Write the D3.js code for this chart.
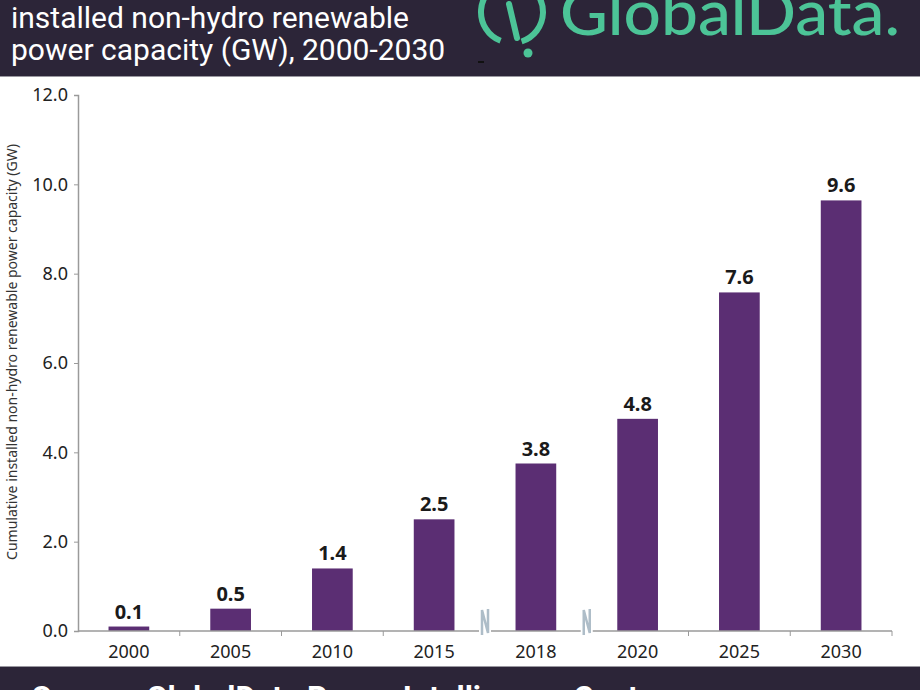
<!DOCTYPE html>
<html><head><meta charset="utf-8">
<script src="https://cdn.jsdelivr.net/npm/d3@7"></script>
<style>
html,body{margin:0;padding:0;background:#fff;overflow:hidden}
svg{display:block}
</style></head>
<body>
<script>
const years = ["2000","2005","2010","2015","2018","2020","2025","2030"];
const capacity = [0.1, 0.5, 1.4, 2.5, 3.75, 4.75, 7.58, 9.64];
const yTicks = [0, 2, 4, 6, 8, 10, 12];
const breakAfter = ["2015", "2018"];
const titleLines = ["installed non-hydro renewable", "power capacity (GW), 2000-2030"];
const yTitle = "Cumulative installed non-hydro renewable power capacity (GW)";
const source = "Source: GlobalData Power Intelligence Center";

const W = 920, H = 690;
const dark = "#2c2538", green = "#4cc497", purple = "#5b2e73";
const svg = d3.select("body").append("svg").attr("width", W).attr("height", H);

// header
svg.append("rect").attr("x",0).attr("y",0).attr("width",W).attr("height",76).attr("fill",dark);
svg.append("line").attr("x1",0).attr("x2",W).attr("y1",76.5).attr("y2",76.5).attr("stroke","#9a98a0").attr("stroke-width",1);
svg.selectAll("text.title").data(titleLines).enter().append("text")
  .attr("x", 11).attr("y", (d,i)=> 28 + i*32)
  .attr("fill","#fff").attr("font-family","Roboto, 'Liberation Sans', sans-serif")
  .attr("font-size", 30).text(d=>d);

// logo
const logo = svg.append("g");
const arc = d3.arc();
logo.append("path").attr("transform","translate(512,12)")
  .attr("d", arc({innerRadius:28, outerRadius:34, startAngle: Math.PI*1.12, endAngle: Math.PI*1.92}))
  .attr("fill", green);
logo.append("path").attr("transform","translate(512,12)")
  .attr("d", arc({innerRadius:28, outerRadius:34, startAngle: Math.PI*0.12, endAngle: Math.PI*0.9}))
  .attr("fill", green);
logo.append("line").attr("x1",509).attr("y1",4).attr("x2",517).attr("y2",38)
  .attr("stroke",green).attr("stroke-width",6).attr("stroke-linecap","round");
logo.append("circle").attr("cx",528).attr("cy",53).attr("r",4.5).attr("fill",green);
logo.append("text").attr("x",560).attr("y",35).attr("fill",green)
  .attr("font-family","Lato, 'Noto Sans', sans-serif").attr("font-size",62).attr("font-weight",500)
  .attr("textLength",340).attr("lengthAdjust","spacingAndGlyphs")
  .text("GlobalData.");
svg.append("rect").attr("x",478).attr("y",61).attr("width",6).attr("height",2).attr("fill","#111");

// footer
svg.append("rect").attr("x",0).attr("y",667).attr("width",W).attr("height",H-667).attr("fill",dark);
svg.append("line").attr("x1",0).attr("x2",W).attr("y1",666.5).attr("y2",666.5).attr("stroke","#9a98a0");
svg.append("text").attr("x",32).attr("y",708).attr("fill","#fff")
  .attr("font-family","Roboto, 'Liberation Sans', sans-serif").attr("font-size",31).attr("font-weight",700)
  .text(source);

// chart
const x0 = 78, x1 = 892, yTop = 95, yBot = 631;
const x = d3.scaleBand().domain(years).range([x0, x1]).paddingInner(0.6).paddingOuter(0.3);
const y = d3.scaleLinear().domain([0, 12]).range([yBot, yTop]);
const font = "'Noto Sans', 'Open Sans', sans-serif";

svg.selectAll("rect.bar").data(years).enter().append("rect")
  .attr("x", d=>x(d)).attr("width", x.bandwidth())
  .attr("y", (d,i)=>y(capacity[i])).attr("height", (d,i)=>y(0)-y(capacity[i]))
  .attr("fill", purple);

svg.selectAll("text.val").data(years).enter().append("text")
  .attr("x", d=>x(d)+x.bandwidth()/2).attr("y", (d,i)=>y(capacity[i])-8)
  .attr("text-anchor","middle").attr("font-family",font).attr("font-size",20).attr("font-weight",700)
  .attr("fill","#1a1a1a").text((d,i)=>d3.format(".1f")(capacity[i]));

// y axis
const yAxis = d3.axisLeft(y).tickValues(yTicks).tickFormat(d3.format(".1f")).tickSize(4).tickPadding(6);
const gy = svg.append("g").attr("transform",`translate(${x0},0)`).call(yAxis);
gy.select(".domain").attr("stroke","#9a9a9a").attr("stroke-width",1.5);
gy.selectAll(".tick line").attr("stroke","#9a9a9a");
gy.selectAll(".tick text").attr("font-family",font).attr("font-size",18).attr("fill","#222");

// x axis
const step = x.step();
const bounds = years.map((d,i)=> x0 + i*step);
bounds.push(x1);
const gx = svg.append("g").attr("transform",`translate(0,${yBot})`);
gx.append("line").attr("x1",x0).attr("x2",x1).attr("stroke","#9a9a9a").attr("stroke-width",1.5);
gx.selectAll("line.tk").data(bounds.slice(1)).enter().append("line")
  .attr("x1",d=>d).attr("x2",d=>d).attr("y1",0).attr("y2",5).attr("stroke","#9a9a9a");
gx.selectAll("text").data(years).enter().append("text")
  .attr("x", d=>x(d)+x.bandwidth()/2).attr("y", 27)
  .attr("text-anchor","middle").attr("font-family",font).attr("font-size",18).attr("fill","#222").text(d=>d);

// break marks
breakAfter.forEach(yr => {
  const bx = x(yr) + x.bandwidth()/2 + step/2;
  svg.append("rect").attr("x",bx-6).attr("y",yBot-22).attr("width",12).attr("height",28).attr("fill","#fff");
  svg.append("path").attr("d", `M${bx-3},${yBot+4} L${bx-3},${yBot-21} L${bx+3},${yBot+2} L${bx+3},${yBot-22}`)
    .attr("fill","none").attr("stroke","#aebdc8").attr("stroke-width",2.5);
});

// y title
svg.append("text").attr("transform",`translate(17,352) rotate(-90)`)
  .attr("text-anchor","middle").attr("font-family",font).attr("font-size",14).attr("fill","#333")
  .text(yTitle);
</script>
</body></html>
